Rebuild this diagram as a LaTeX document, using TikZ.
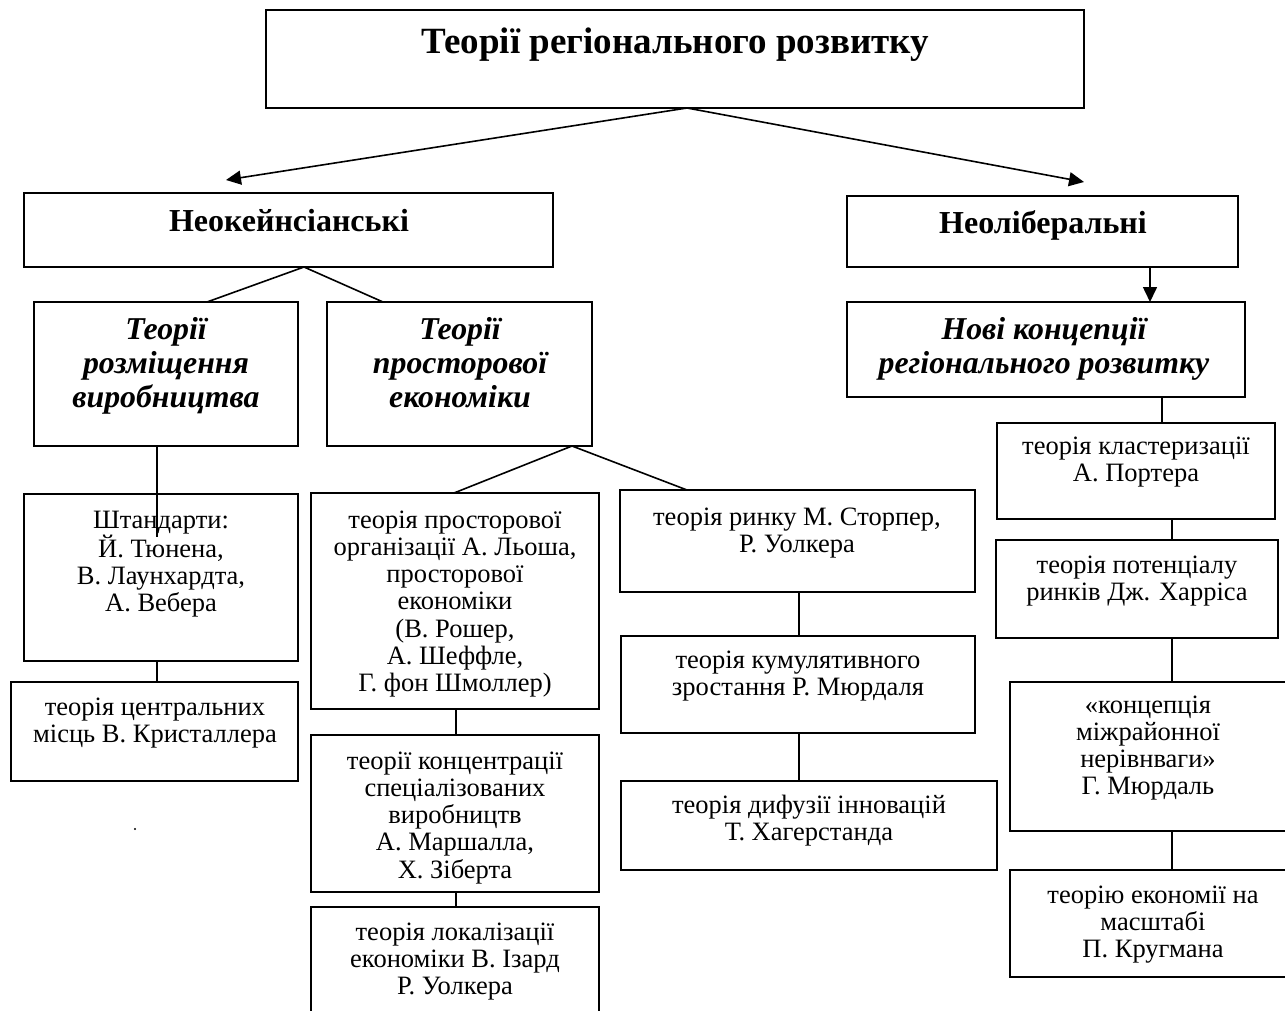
\documentclass[tikz,border=0pt]{standalone}
\usepackage{fontspec}
\setmainfont{Liberation Serif}
\usetikzlibrary{arrows.meta,calc}

% box: name, x1, y1, x2, y2 (y grows downwards)
\newcommand\mkbox[5]{\node[boxnode,minimum width={#4-#2},minimum height={#5-#3}] (#1) at (#2,#3) {};}
% text: style, name, centre x, baseline of first line, lines
\newcommand\mktxt[5]{\node[#1] (#2) at (#3,#4-40) {\rule{0pt}{40pt}#5};}

\begin{document}
\begin{tikzpicture}[x=1pt,y=-1pt,
  boxnode/.style={draw,line width=1.8pt,inner sep=0pt,outer sep=0pt,anchor=north west},
  bodytxt/.style={inner sep=0pt,anchor=north,align=center,font=\fontsize{26.5}{27.2}\selectfont},
  headtxt/.style={bodytxt,font=\fontsize{32}{34}\selectfont\bfseries},
  iheadtxt/.style={bodytxt,font=\fontsize{31.8}{34}\selectfont\bfseries\itshape},
  ttltxt/.style={bodytxt,font=\fontsize{37}{42}\selectfont\bfseries},
  linkline/.style={line width=1.6pt},
  arrline/.style={linkline,-{Triangle[length=15pt,width=14pt]}}]

\clip (0,0) rectangle (1285,1011);

% boxes
\mkbox{top}{266}{10}{1084}{108}
\mkbox{nk}{24}{193}{553}{267}
\mkbox{nl}{847}{196}{1238}{267}
\mkbox{razm}{34}{302}{298}{446}
\mkbox{prost}{327}{302}{592}{446}
\mkbox{novi}{847}{302}{1245}{397}
\mkbox{shtand}{24}{494}{298}{661}
\mkbox{centr}{11}{682}{298}{781}
\mkbox{lesh}{311}{493}{599}{709}
\mkbox{konc}{311}{735}{599}{892}
\mkbox{lokal}{311}{907}{599}{1030}
\mkbox{storp}{620}{490}{975}{592}
\mkbox{kumul}{621}{636}{975}{733}
\mkbox{dyf}{621}{781}{997}{870}
\mkbox{klast}{997}{423}{1275}{519}
\mkbox{potent}{996}{540}{1278}{638}
\mkbox{mizh}{1010}{682}{1295}{831}
\mkbox{krug}{1010}{870}{1295}{977}

% texts
\mktxt{ttltxt}{t-top}{675}{53}{Теорії регіонального розвитку}
\mktxt{headtxt}{t-nk}{289}{231}{Неокейнсіанські}
\mktxt{headtxt}{t-nl}{1043}{233}{Неоліберальні}
\mktxt{iheadtxt}{t-razm}{166}{339}{Теорії\\розміщення\\виробництва}
\mktxt{iheadtxt}{t-prost}{460}{339}{Теорії\\просторової\\економіки}
\mktxt{iheadtxt}{t-novi}{1044}{339}{Нові концепції\\регіонального розвитку}
\mktxt{bodytxt}{t-shtand}{161}{528}{Штандарти:\\Й. Тюнена,\\В. Лаунхардта,\\А. Вебера}
\mktxt{bodytxt}{t-centr}{155}{715}{теорія центральних\\місць В. Кристаллера}
\mktxt{bodytxt}{t-lesh}{455}{528}{теорія просторової\\організації А. Льоша,\\просторової\\економіки\\(В. Рошер,\\А. Шеффле,\\Г. фон Шмоллер)}
\mktxt{bodytxt}{t-konc}{455}{769}{теорії концентрації\\спеціалізованих\\виробництв\\А. Маршалла,\\Х. Зіберта}
\mktxt{bodytxt}{t-lokal}{455}{940}{теорія локалізації\\економіки В. Ізард\\Р. Уолкера}
\mktxt{bodytxt}{t-storp}{797}{525}{теорія ринку М. Сторпер,\\Р. Уолкера}
\mktxt{bodytxt}{t-kumul}{798}{668}{теорія кумулятивного\\зростання Р. Мюрдаля}
\mktxt{bodytxt}{t-dyf}{809}{813}{теорія дифузії інновацій\\Т. Хагерстанда}
\mktxt{bodytxt}{t-klast}{1136}{454}{теорія кластеризації\\А. Портера}
\mktxt{bodytxt}{t-potent}{1137}{573}{теорія потенціалу\\ринків Дж. Харріса}
\mktxt{bodytxt}{t-mizh}{1148}{713}{«концепція\\міжрайонної\\нерівнваги»\\Г. Мюрдаль}
\mktxt{bodytxt}{t-krug}{1153}{903}{теорію економії на\\масштабі\\П. Кругмана}

% x positions of the connectors
\coordinate (xa) at (687,0);
\coordinate (xb) at (304,0);
\coordinate (xc) at (207,0);
\coordinate (xd) at (383,0);
\coordinate (xe) at (572,0);
\coordinate (xf) at (454,0);
\coordinate (xh) at (1150,0);
\coordinate (xi) at (456,0);
\coordinate (xj) at (799,0);
\coordinate (xk) at (1162,0);
\coordinate (xl) at (1172,0);
\coordinate (stub) at (157,537);
\coordinate (aL) at (226,180);
\coordinate (aR) at (1084,182);

% connectors
\draw[arrline] (top.south -| xa) -- (aL);
\draw[arrline] (top.south -| xa) -- (aR);
\draw[linkline] (nk.south -| xb) -- (razm.north -| xc);
\draw[linkline] (nk.south -| xb) -- (prost.north -| xd);
\draw[arrline] (nl.south -| xh) -- (novi.north -| xh);
\draw[linkline] (razm.south -| stub) -- (stub);
\draw[linkline] (shtand.south -| stub) -- (centr.north -| stub);
\draw[linkline] (prost.south -| xe) -- (lesh.north -| xf);
\draw[linkline] (prost.south -| xe) -- (storp.north -| xa);
\draw[linkline] (lesh.south -| xi) -- (konc.north -| xi);
\draw[linkline] (konc.south -| xi) -- (lokal.north -| xi);
\draw[linkline] (storp.south -| xj) -- (kumul.north -| xj);
\draw[linkline] (kumul.south -| xj) -- (dyf.north -| xj);
\draw[linkline] (novi.south -| xk) -- (klast.north -| xk);
\draw[linkline] (klast.south -| xl) -- (potent.north -| xl);
\draw[linkline] (potent.south -| xl) -- (mizh.north -| xl);
\draw[linkline] (mizh.south -| xl) -- (krug.north -| xl);

% stray ink dot
\fill (135,829) circle (1.2pt);
\end{tikzpicture}
\end{document}
